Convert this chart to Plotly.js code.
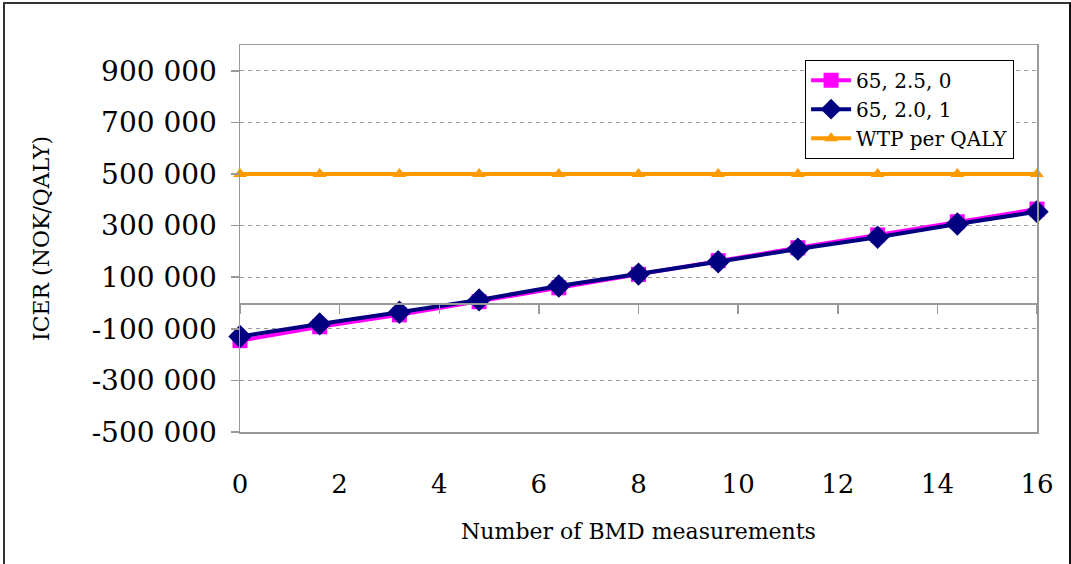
<!DOCTYPE html>
<html>
<head>
<meta charset="utf-8">
<script src="https://cdn.plot.ly/plotly-3.0.1.min.js"></script>
<style>
  html, body { margin: 0; padding: 0; background: #fff; }
  #wrap { position: relative; width: 1071px; height: 564px; overflow: hidden; }
  #chart { position: absolute; left: 0; top: 0; width: 1071px; height: 564px; }
  #frame { position: absolute; left: 3px; top: 2px; width: 1064px; height: 600px;
           border-left: 2px solid #333; border-top: 2px solid #333; border-right: 2px solid #111;
           pointer-events: none; }
</style>
</head>
<body>
<div id="wrap">
  <div id="chart"></div>
  <div id="frame"></div>
</div>
<script>
const bmd = [0, 1.6, 3.2, 4.8, 6.4, 8.0, 9.6, 11.2, 12.8, 14.4, 16];
const series25 = [-146000, -92000, -46000, 5000, 59000, 111000, 164000, 214000, 264000, 315000, 364000];
const series20 = [-130000, -81000, -36000, 12000, 66000, 112000, 160000, 209000, 255000, 306000, 354000];
const wtp = [500000, 500000, 500000, 500000, 500000, 500000, 500000, 500000, 500000, 500000, 500000];
const names = ['65, 2.5, 0', '65, 2.0, 1', 'WTP per QALY'];
const yTicks = [-500000, -300000, -100000, 100000, 300000, 500000, 700000, 900000];
const yTickText = ['-500 000', '-300 000', '-100 000', '100 000', '300 000', '500 000', '700 000', '900 000'];
const xTicks = [0, 2, 4, 6, 8, 10, 12, 14, 16];

const FONT = 'DejaVu Serif, Liberation Serif, serif';

const traces = [
  {x: bmd, y: series25, name: names[0], type: 'scatter', mode: 'lines+markers', cliponaxis: false,
   line: {color: '#FF00FF', width: 4}, marker: {symbol: 'square', size: 15, color: '#FF00FF'}},
  {x: bmd, y: series20, name: names[1], type: 'scatter', mode: 'lines+markers', cliponaxis: false,
   line: {color: '#000080', width: 4}, marker: {symbol: 'diamond', size: 18, color: '#000080'}},
  {x: bmd, y: wtp, name: names[2], type: 'scatter', mode: 'lines+markers', xaxis: 'x2', cliponaxis: false,
   line: {color: '#FF9900', width: 4}, marker: {symbol: 'triangle-up', size: 12, color: '#FF9900'}}
];

const layout = {
  width: 1071, height: 564,
  margin: {l: 240, r: 34, t: 45, b: 132},
  paper_bgcolor: '#ffffff', plot_bgcolor: '#ffffff',
  font: {family: FONT, color: '#000'},
  showlegend: true,
  legend: {x: 0.709, y: 0.962, xanchor: 'left', yanchor: 'top',
           bgcolor: '#ffffff', bordercolor: '#000', borderwidth: 1,
           font: {family: FONT, size: 20, color: '#000'}, tracegroupgap: 0, itemwidth: 40},
  xaxis: {range: [0, 16], tickvals: xTicks, ticktext: xTicks.map(String),
          ticks: 'outside', ticklen: 28, tickcolor: 'rgba(0,0,0,0)',
          showgrid: false, zeroline: false, showline: true, mirror: true,
          linecolor: '#999', linewidth: 1.5,
          tickfont: {family: FONT, size: 26, color: '#000'},
          title: {text: 'Number of BMD measurements', font: {family: FONT, size: 22, color: '#000'}, standoff: 26}},
  xaxis2: {overlaying: 'x', anchor: 'free', position: 1/3, side: 'bottom',
           range: [0, 16], tickvals: xTicks, showticklabels: false,
           ticks: 'outside', ticklen: 9, tickcolor: '#999', tickwidth: 1.5,
           showline: true, linecolor: '#999', linewidth: 1.5,
           showgrid: false, zeroline: false},
  yaxis: {range: [-500000, 1000000], tickvals: yTicks, ticktext: yTickText,
          ticks: 'outside', ticklen: 8, tickcolor: '#999', tickwidth: 1.5,
          showgrid: true, gridcolor: '#999', griddash: '4px,4px', gridwidth: 1,
          zeroline: false, showline: true, mirror: true, linecolor: '#999', linewidth: 1.5,
          ticklabelstandoff: 8,
          tickfont: {family: FONT, size: 28, color: '#000'},
          title: {text: 'ICER (NOK/QALY)', font: {family: FONT, size: 22, color: '#000'}, standoff: 36}}
};

Plotly.newPlot('chart', traces, layout, {displayModeBar: false, staticPlot: true});
</script>
</body>
</html>
